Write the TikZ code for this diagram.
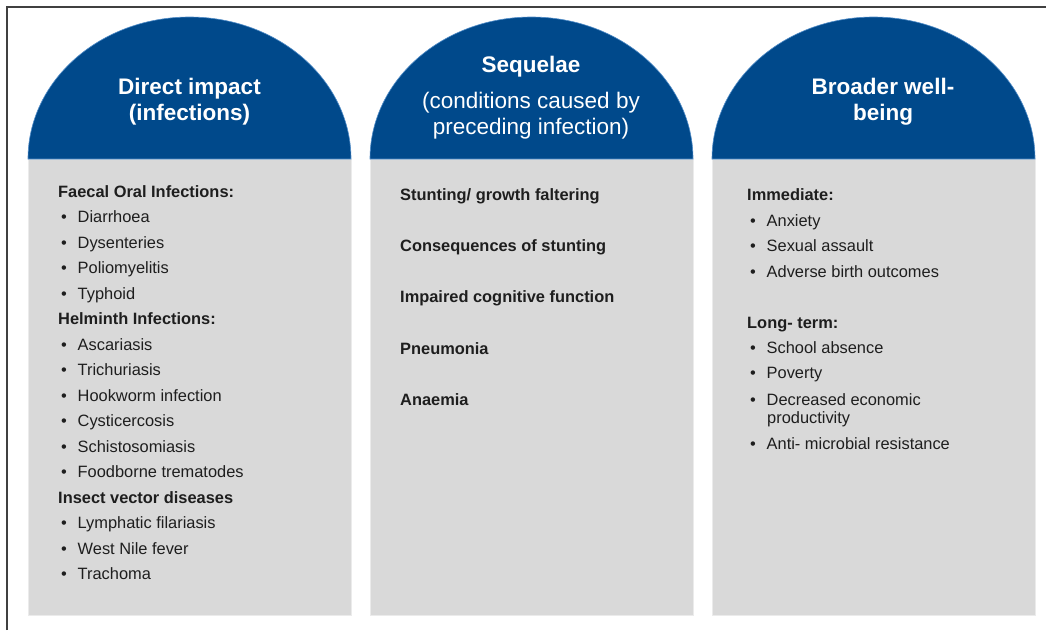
\documentclass[tikz,border=0pt]{standalone}
\usepackage{fontspec}
\setmainfont{Liberation Sans}
\definecolor{domeblue}{RGB}{0,73,139}
\definecolor{domeedge}{RGB}{80,140,200}
\definecolor{panelgray}{RGB}{217,217,217}
\definecolor{txt}{RGB}{30,30,30}
\begin{document}
\begin{tikzpicture}[x=1pt,y=-1pt,
  panel/.style={fill=panelgray, draw=black!8, line width=0.6pt},
  dome/.style={fill=domeblue, draw=domeedge, line width=0.6pt},
  head/.style={text=white, align=center, inner sep=0pt, font=\fontsize{22.5}{26}\selectfont},
  body/.style={anchor=base west, inner sep=0pt, text=txt, font=\fontsize{16.4}{19}\selectfont},
  bold/.style={body, font=\fontsize{16.4}{19}\selectfont\bfseries},
]
\useasboundingbox (0,0) rectangle (1046,630);
\fill[white] (0,0) rectangle (1046,630);
\draw[black!75, line width=1.3pt] (7,630) -- (7,7) -- (1046,7);

\newcommand{\bul}{\makebox[16.5pt][l]{\textbullet}}

% panels
\foreach \xl/\nm in {28/p1, 370/p2, 712/p3}{
  \path[panel] (\xl,159) rectangle ++(323,456);
  \path[dome] (\xl,159) arc[start angle=180, end angle=360, x radius=161.5, y radius=142] -- cycle;
}

% headers
\node[head, font=\fontsize{22.5}{26}\selectfont\bfseries] (h1) at (189.5,101.5) {Direct impact\\(infections)};
\node[head, font=\fontsize{22.5}{26}\selectfont\bfseries, anchor=base] (h2) at (531,72.5) {Sequelae};
\node[head, anchor=base] (h2a) at (531,108.5) {(conditions caused by};
\node[head, anchor=base] (h2b) at (531,134.5) {preceding infection)};
\node[head, font=\fontsize{22.5}{26}\selectfont\bfseries] (h3) at (883,101.5) {Broader well-\\being};

% column 1
\node[bold] (c1a) at (58,197) {Faecal Oral Infections:};
\node[body] (c1b) at (61,222.5) {\bul Diarrhoea};
\node[body] (c1c) at (61,248) {\bul Dysenteries};
\node[body] (c1d) at (61,273.5) {\bul Poliomyelitis};
\node[body] (c1e) at (61,299) {\bul Typhoid};
\node[bold] (c1f) at (58,324.5) {Helminth Infections:};
\node[body] (c1g) at (61,350) {\bul Ascariasis};
\node[body] (c1h) at (61,375.5) {\bul Trichuriasis};
\node[body] (c1i) at (61,401) {\bul Hookworm infection};
\node[body] (c1j) at (61,426.5) {\bul Cysticercosis};
\node[body] (c1k) at (61,452) {\bul Schistosomiasis};
\node[body] (c1l) at (61,477.5) {\bul Foodborne trematodes};
\node[bold] (c1m) at (58,503) {Insect vector diseases};
\node[body] (c1n) at (61,528.5) {\bul Lymphatic filariasis};
\node[body] (c1o) at (61,554) {\bul West Nile fever};
\node[body] (c1p) at (61,579.5) {\bul Trachoma};

% column 2
\node[bold] (c2a) at (400,200.5) {Stunting/ growth faltering};
\node[bold] (c2b) at (400,251.7) {Consequences of stunting};
\node[bold] (c2c) at (400,302.8) {Impaired cognitive function};
\node[bold] (c2d) at (400,354) {Pneumonia};
\node[bold] (c2e) at (400,405) {Anaemia};

% column 3
\node[bold] (c3a) at (747,200) {Immediate:};
\node[body] (c3b) at (750,226) {\bul Anxiety};
\node[body] (c3c) at (750,251.5) {\bul Sexual assault};
\node[body] (c3d) at (750,277) {\bul Adverse birth outcomes};
\node[bold] (c3e) at (747,328.5) {Long- term:};
\node[body] (c3f) at (750,353.5) {\bul School absence};
\node[body] (c3g) at (750,378.5) {\bul Poverty};
\node[body] (c3h) at (750,405) {\bul Decreased economic};
\node[body] (c3i) at (767,423.5) {productivity};
\node[body] (c3j) at (750,449.5) {\bul Anti- microbial resistance};
\end{tikzpicture}
\end{document}
